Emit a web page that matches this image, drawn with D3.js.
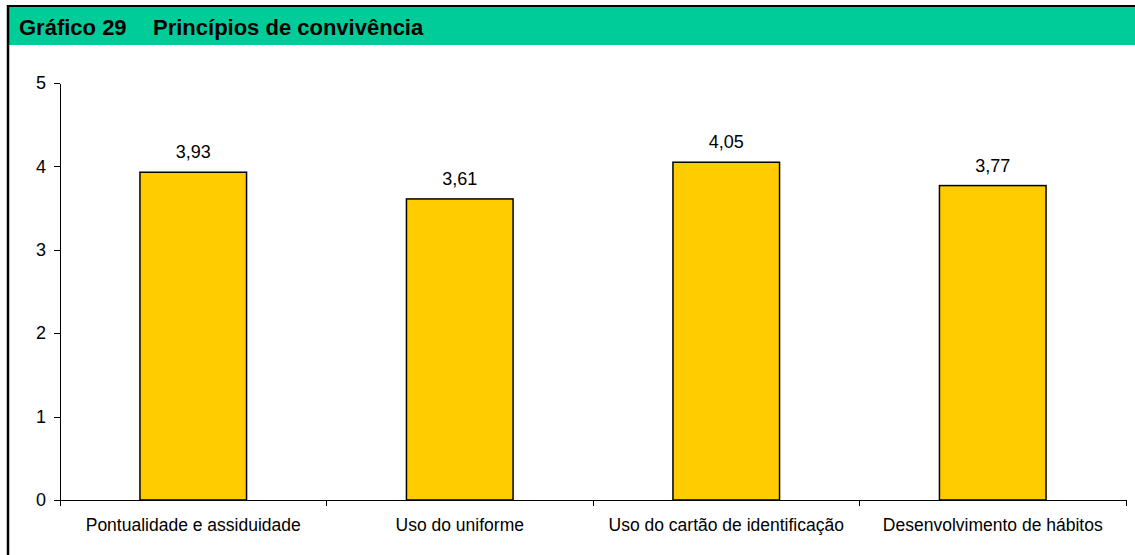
<!DOCTYPE html>
<meta charset="utf-8">
<style>
body { margin: 0; background: #fff; }
text { font-family: "Liberation Sans", Arial, sans-serif; fill: #000; }
.axis path, .axis line { stroke: #000; stroke-width: 1; shape-rendering: crispEdges; }
.bar { fill: #FFCC00; stroke: #000; stroke-width: 1.5; }
</style>
<body>
<div id="chart"></div>
<script src="https://cdn.jsdelivr.net/npm/d3@7"></script>
<script>
// data
const categories = ["Pontualidade e assiduidade", "Uso do uniforme", "Uso do cartão de identificação", "Desenvolvimento de hábitos"];
const values = [3.93, 3.61, 4.05, 3.77];
const yTicks = [0, 1, 2, 3, 4, 5];
const titleNum = "Gráfico 29";
const titleText = "Princípios de convivência";

const W = 1135, H = 555;
const margin = {top: 83, right: 9, bottom: 55, left: 60};
const width = W - margin.left - margin.right,
      height = H - margin.top - margin.bottom;

const svg = d3.select("#chart").append("svg")
    .attr("width", W).attr("height", H);

// frame + header band
svg.append("rect").attr("x", 9).attr("y", 7).attr("width", W - 9).attr("height", 38)
    .attr("fill", "#00CC99");
svg.append("line").attr("x1", 8).attr("x2", 8).attr("y1", 5).attr("y2", H)
    .attr("stroke", "#000").attr("stroke-width", 2.5);
svg.append("line").attr("x1", 7).attr("x2", W).attr("y1", 6).attr("y2", 6)
    .attr("stroke", "#000").attr("stroke-width", 2);
svg.append("text").attr("x", 19).attr("y", 35)
    .style("font-size", "22px").style("font-weight", "bold").text(titleNum);
svg.append("text").attr("x", 153).attr("y", 35)
    .style("font-size", "22px").style("font-weight", "bold").text(titleText);

const g = svg.append("g").attr("transform", "translate(" + margin.left + "," + margin.top + ")");

const x = d3.scaleBand().domain(categories).range([0, width]).paddingInner(0.6).paddingOuter(0.3);
const xb = d3.scaleBand().domain(categories).range([0, width]);
const y = d3.scaleLinear().domain([0, 5]).range([height, 0]);

// y axis
g.append("g").attr("class", "axis")
    .call(d3.axisLeft(y).tickValues(yTicks).tickFormat(d3.format("d")).tickSize(6).tickPadding(8).tickSizeOuter(0))
    .call(a => a.selectAll("text").style("font-size", "18px").attr("font-family", null));

// x axis with ticks between categories
const xa = g.append("g").attr("class", "axis").attr("transform", "translate(0," + height + ")");
xa.append("line").attr("x1", 0).attr("x2", width).attr("y1", 0).attr("y2", 0);
xa.selectAll(".tk").data(categories.concat(["end"])).enter().append("line")
    .attr("x1", (d, i) => i * xb.bandwidth()).attr("x2", (d, i) => i * xb.bandwidth())
    .attr("y1", 0).attr("y2", 6);
xa.selectAll(".lbl").data(categories).enter().append("text")
    .attr("x", d => xb(d) + xb.bandwidth() / 2).attr("y", 31)
    .attr("text-anchor", "middle").style("font-size", "17.5px").text(d => d);

// bars
const data = categories.map((c, i) => ({cat: c, v: values[i]}));
g.selectAll(".bar").data(data).enter().append("rect")
    .attr("class", "bar")
    .attr("x", d => x(d.cat)).attr("width", x.bandwidth())
    .attr("y", d => y(d.v)).attr("height", d => height - y(d.v));

g.selectAll(".val").data(data).enter().append("text")
    .attr("x", d => x(d.cat) + x.bandwidth() / 2).attr("y", d => y(d.v) - 14)
    .attr("text-anchor", "middle").style("font-size", "18px")
    .text(d => d3.format(".2f")(d.v).replace(".", ","));
</script>
</body>
